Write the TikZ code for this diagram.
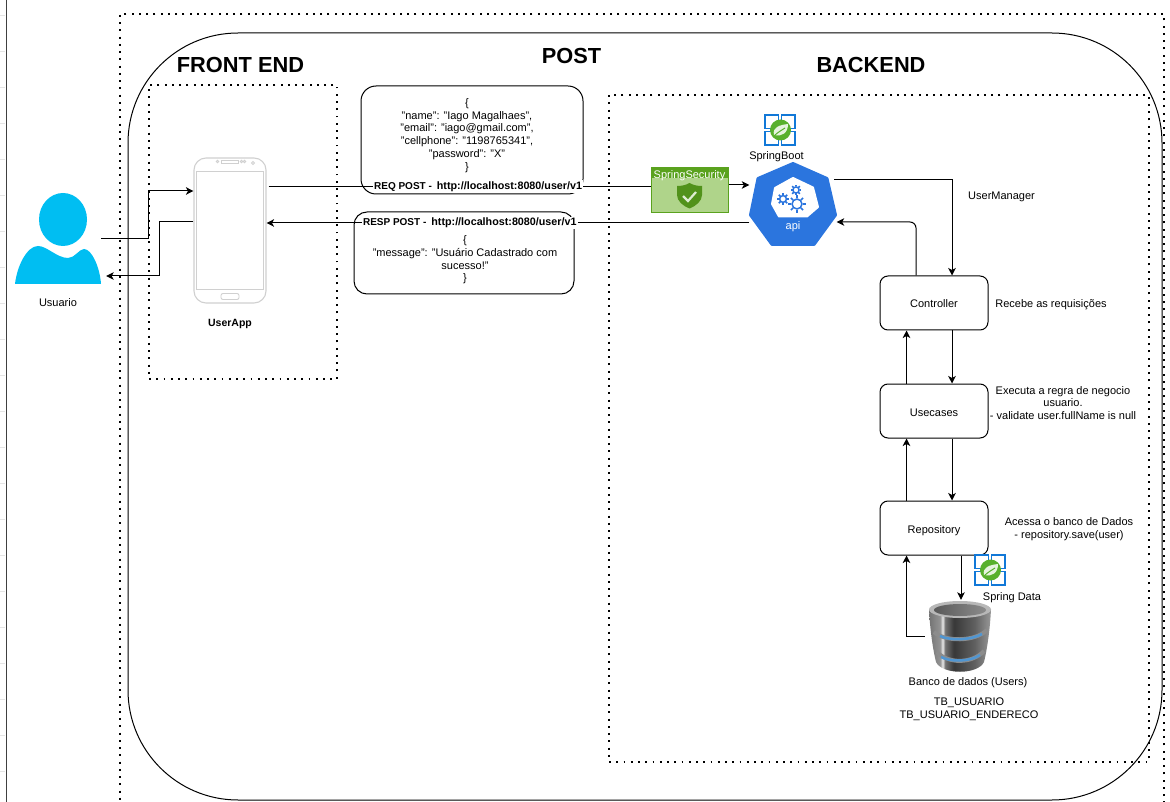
\documentclass[tikz,border=0pt]{standalone}
\usepackage{fontspec}
\setmainfont{Liberation Sans}
\usepackage{xcolor}
\definecolor{personblue}{RGB}{0,190,242}
\definecolor{apiblue}{RGB}{43,117,222}
\definecolor{iconblue}{RGB}{17,120,216}
\definecolor{leafgreen}{RGB}{88,176,44}
\definecolor{secgreen}{RGB}{90,162,30}
\definecolor{seclight}{RGB}{175,212,138}
\definecolor{phonegray}{RGB}{208,208,208}
\definecolor{bandblue}{RGB}{80,150,210}
\pgfdeclarehorizontalshading{dbbody}{100bp}{
  color(0bp)=(black!50); color(25bp)=(black!55); color(34bp)=(black!42);
  color(36bp)=(black!8); color(38bp)=(black!55); color(45bp)=(black!78);
  color(62bp)=(black!62); color(75bp)=(black!40); color(100bp)=(black!40)}
\usepackage{tikz}
\usetikzlibrary{arrows.meta,positioning}
\tikzset{
  dotted frame/.style={draw, line width=1.8pt, dash pattern=on 1.8pt off 5.45pt, inner sep=0pt},
  layer box/.style={draw, rounded corners=8pt, line width=1pt, minimum width=108pt, minimum height=54pt, inner sep=0pt, text height=10pt, text depth=0pt, font=\fontsize{11}{13}\selectfont},
  json box/.style={draw, rounded corners=15pt, line width=1pt, inner sep=0pt},
  plain text/.style={align=center, inner sep=0pt, yshift=-1.5pt, font=\fontsize{11}{12.7}\selectfont},
  title text/.style={inner sep=0pt, font=\fontsize{21.8}{24}\selectfont\bfseries},
  url label/.style={fill=white, inner sep=1pt, font=\fontsize{10}{12}\selectfont\bfseries},
  flow/.style={-{Stealth[length=7.5pt,width=7.5pt,inset=2pt]}, line width=1pt},
  flow plain/.style={line width=1pt},
  spring icon/.pic={
    \foreach \sx/\sy in {-1/-1,1/-1,-1/1,1/1}
      \draw[iconblue, line width=1.9pt] (\sx*1.5,\sy*1.5) rectangle (\sx*15,\sy*15);
    \fill[leafgreen] (0.5,0) circle (10.5pt);
    \fill[white!85!leafgreen] (-6,5) .. controls (-8,-3) and (0,-5) .. (8,-6) .. controls (8,3) and (2,7) .. (-6,5);
    \draw[leafgreen, line width=1pt] (-6,6) .. controls (-2,2) and (2,0) .. (5,-2);
  },
  gear icon/.pic={
    \draw[apiblue, line width=1.5pt] (0,0) circle (#1*0.62pt);
    \foreach \a in {0,45,...,315}
      \draw[apiblue, line width=1.7pt] (\a:#1*0.7) -- (\a:#1*1.08);
  },
}
\begin{document}
\begin{tikzpicture}[x=1pt, y=-1pt]
  \useasboundingbox (0,0) rectangle (1170,802);
  \foreach \gy in {15,51,...,790}
    \draw[black!10, line width=0.8pt] (0,\gy) -- (5,\gy);
  \draw[black!75, line width=1pt] (6.5,0) -- (6.5,802);

  \node[dotted frame, minimum width=1044pt, minimum height=840pt] (post frame) at (642,434) {};
  \node[draw, rounded corners=110pt, line width=1pt, minimum width=1034pt, minimum height=767pt, inner sep=0pt] (post area) at (645,416.5) {};
  \node[dotted frame, minimum width=188pt, minimum height=294pt] (front frame) at (243,232) {};
  \node[dotted frame, minimum width=540pt, minimum height=667pt] (back frame) at (879,428.5) {};

  \node[title text] (post title) at (571.5,56) {POST};
  \node[title text] (front title) at (240.5,65) {FRONT END};
  \node[title text] (back title) at (871,65) {BACKEND};

  \node[minimum width=86pt, minimum height=91pt, inner sep=0pt] (usuario) at (58,238.5) {};
  \fill[personblue] (63,219.5) ellipse [x radius=24pt, y radius=26.5pt];
  \fill[personblue] (15,284) .. controls (17,266) and (27,246) .. (38,246) .. controls (47,246) and (57,258) .. (68,258) .. controls (75,258) and (79,249) .. (84,249) .. controls (92,249) and (100,268) .. (101,284) -- cycle;
  \node[plain text] (usuario label) at (58,301) {Usuario};

  \node[draw=phonegray, rounded corners=12pt, line width=1.1pt, minimum width=72pt, minimum height=145pt, inner sep=0pt] (phone) at (230,230.5) {};
  \draw[phonegray, line width=1pt] (196.5,171.5) rectangle (263.5,289.5);
  \draw[phonegray, line width=0.9pt] (221,160.5) rectangle (238,163.5);
  \draw[phonegray, line width=0.8pt] (217.5,161.5) circle (1.3pt) (241.5,161.5) circle (1.2pt) (244.5,161.5) circle (1.2pt) (253,163) circle (1.5pt);
  \draw[phonegray, line width=0.9pt, rounded corners=2pt] (221,293.5) rectangle (239,299.5);
  \node[plain text, font=\fontsize{10.5}{12}\selectfont\bfseries] (phone label) at (230,322) {UserApp};

  \node[json box, minimum width=222pt, minimum height=108pt] (req box) at (472,140) {};
  \node[json box, rounded corners=13pt, minimum width=220pt, minimum height=82pt] (resp box) at (464,253) {};
  \node[plain text] (req body) at (467,134) {\{\\"name": "Iago Magalhaes",\\"email": "iago@gmail.com",\\"cellphone": "1198765341",\\"password": "X"\\\}};
  \node[plain text] (resp body) at (465,258.5) {\{\\"message": "Usuário Cadastrado com\\sucesso!"\\\}};

  \node[draw=secgreen, fill=seclight, line width=1pt, minimum width=77pt, minimum height=45pt, inner sep=0pt] (security) at (689.5,190.5) {};
  \fill[secgreen] (651,168) rectangle (728,178.5);
  \node[plain text, text=white] (security title) at (689.5,174) {SpringSecurity};
  \fill[secgreen!90!black] (689.5,183) .. controls (694,185.5) and (698,186) .. (702,186) -- (702,195) .. controls (702,201) and (696,206) .. (689.5,208.5) .. controls (683,206) and (677,201) .. (677,195) -- (677,186) .. controls (681,186) and (685,185.5) .. (689.5,183) -- cycle;
  \draw[white!80!secgreen, line width=2.2pt] (683,196) -- (688,201) -- (696,192);

  \node[minimum width=87pt, minimum height=84pt, inner sep=0pt] (api) at (793,204) {};
  \fill[apiblue, draw=apiblue, line width=3pt, line join=round] (793,163.5) -- (827,178.5) -- (835.5,215) -- (814,244.5) -- (772,244.5) -- (750.5,215) -- (758,178.5) -- cycle;
  \fill[white, draw=white, line width=2pt, line join=round] (793,178) -- (813,187.5) -- (818,207) -- (807,216.5) -- (779,216.5) -- (772,204) -- (775,188) -- cycle;
  \pic at (783,199) {gear icon=5.5};
  \pic at (796,190) {gear icon=5};
  \pic at (797,204) {gear icon=8};
  \node[plain text, text=white] (api label) at (793,225) {api};

  \pic at (780,130) {spring icon};
  \node[plain text] (boot label) at (776.5,155) {SpringBoot};

  \node[layer box] (controller) at (934,303) {Controller};
  \node[layer box] (usecases) at (934,411) {Usecases};
  \node[layer box] (repository) at (934,528) {Repository};

  \node[minimum width=64pt, minimum height=72pt, inner sep=0pt] (db) at (960,636) {};
  \shade[shading=dbbody] (929,609) .. controls (930,630) and (933,650) .. (936,662) .. controls (942,675) and (978,675) .. (984,662) .. controls (987,650) and (990,630) .. (991,609) -- cycle;
  \draw[black!45, line width=4pt] (934,632) .. controls (945,642) and (975,642) .. (987,630);
  \draw[black!45, line width=4pt] (937,652) .. controls (948,664) and (972,664) .. (984,651);
  \draw[bandblue, line width=2.5pt] (940,636) .. controls (950,641) and (972,640) .. (982,634);
  \draw[bandblue, line width=2.5pt] (941,657) .. controls (950,662) and (970,662) .. (980,655);
  \fill[black!28] (960,609.5) ellipse [x radius=31pt, y radius=8.5pt];
  \shade[left color=black!65, right color=black!45] (960,610) ellipse [x radius=26pt, y radius=6pt];

  \pic at (990,570) {spring icon};
  \node[plain text] (data label) at (1012,596) {Spring Data};
  \node[plain text] (db label) at (968,681) {Banco de dados (Users)};
  \node[plain text] (db tables) at (969,708) {TB\_USUARIO\\TB\_USUARIO\_ENDERECO};
  \node[plain text] (manager label) at (1001.5,195) {UserManager};
  \node[plain text] (controller note) at (1051,303) {Recebe as requisições};
  \node[plain text] (usecases note) at (1063,401.5) {Executa a regra de negocio\\usuario.\\- validate user.fullName is null};
  \node[plain text] (repository note) at (1069,528) {Acessa o banco de Dados\\- repository.save(user)};

  \draw[flow] (usuario.east) -- ++(47,0) |- ([yshift=39.5pt]phone.west);
  \draw[flow] ([yshift=9pt]phone.west) -- ++(-34,0) |- ([xshift=5pt,yshift=-37.5pt]usuario.east);
  \draw[flow plain, shorten <=2pt] ([yshift=44pt]phone.east) -- node[url label, pos=0.551] (req label) {REQ POST -\hspace{5pt}{\fontsize{10.75}{12}\selectfont http://localhost:8080/user/v1}} ([yshift=4pt]security.west);
  \draw[flow] ([yshift=-19pt]api.west) -- node[url label, pos=0.579] (resp label) {RESP POST -\hspace{5pt}{\fontsize{10.75}{12}\selectfont http://localhost:8080/user/v1}} ([yshift=7.5pt]phone.east);
  \draw[flow] ([yshift=5.5pt]security.east) -- ([yshift=19pt]api.west);
  \draw[flow] ([xshift=-2.5pt,yshift=24.5pt]api.east) -| ([xshift=18pt]controller.north);
  \draw[flow, rounded corners=6pt] ([xshift=-18pt]controller.north) |- ([yshift=-18pt]api.east);
  \draw[flow] ([xshift=18pt]controller.south) -- ([xshift=18pt]usecases.north);
  \draw[flow] ([xshift=-27.5pt]usecases.north) -- ([xshift=-27.5pt]controller.south);
  \draw[flow] ([xshift=18pt]usecases.south) -- ([xshift=18pt]repository.north);
  \draw[flow] ([xshift=-27.5pt]repository.north) -- ([xshift=-27.5pt]usecases.south);
  \draw[flow] ([xshift=27pt]repository.south) -- ([xshift=1pt]db.north);
  \draw[flow] ([xshift=-3pt]db.west) -| ([xshift=-27.5pt]repository.south);
\end{tikzpicture}
\end{document}
